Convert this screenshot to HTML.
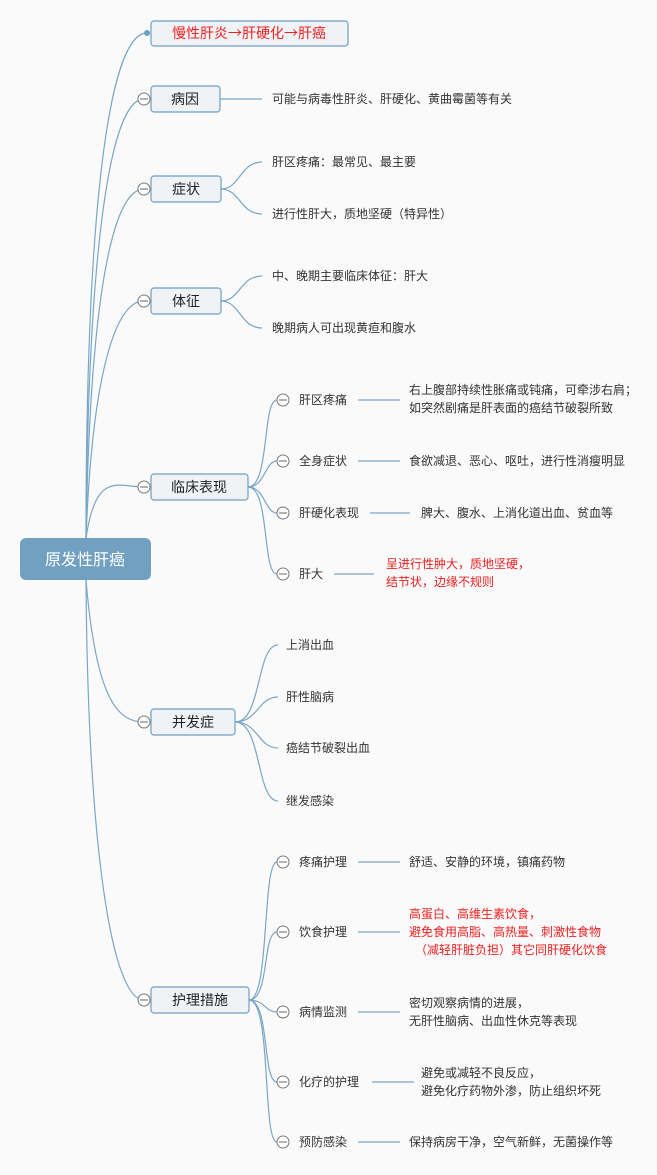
<!DOCTYPE html>
<html><head><meta charset="utf-8"><style>
html,body{margin:0;padding:0;background:#fafafa;}
svg{display:block;font-family:"Liberation Sans","Noto Sans CJK SC",sans-serif;}
.n{fill:#eff3f6;stroke:#6f9ec1;stroke-width:1.2;}
.l{fill:none;stroke:#7aa6c6;stroke-width:1.2;}
.c{fill:#fff;stroke:#777;stroke-width:1;}
.t{font-size:12px;fill:#333;}
.h{font-size:14px;fill:#222;}
.r{font-size:12px;fill:#f02020;}
.a{font-family:"Noto Sans CJK SC",sans-serif;}
</style></head><body>
<svg width="657" height="1175" viewBox="0 0 657 1175">
<g class="l">
<path d="M86,538 C86,200 110,33 147,33"/>
<path d="M86,538 C88,250 110,99 144,99"/>
<path d="M86,538 C90,300 112,189 144,189"/>
<path d="M86,538 C92,380 114,301 144,301"/>
<path d="M86,538 C96,470 118,487 144,487"/>
<path d="M86,580 C96,700 118,722 144,722"/>
<path d="M86,580 C88,850 112,1000 144,1000"/>
<path d="M220,99 L262,99"/>
<path d="M221,189 C240,189 240,162 262,162"/>
<path d="M221,189 C240,189 240,214 262,214"/>
<path d="M221,301 C240,301 240,276 262,276"/>
<path d="M221,301 C240,301 240,328 262,328"/>
<path d="M248,487 C270,487 262,400 277,400"/>
<path d="M248,487 C265,487 265,461 277,461"/>
<path d="M248,487 C265,487 265,513 277,513"/>
<path d="M248,487 C270,487 262,574 277,574"/>
<path d="M358,400 L400,400"/><path d="M358,461 L400,461"/><path d="M370,513 L410,513"/><path d="M334,574 L374,574"/>
<path d="M235,722 C262,722 256,645 278,645"/>
<path d="M235,722 C258,722 258,697 278,697"/>
<path d="M235,722 C258,722 258,748 278,748"/>
<path d="M235,722 C262,722 256,801 278,801"/>
<path d="M249,1000 C270,1000 262,862 277,862"/>
<path d="M249,1000 C270,1000 262,932 277,932"/>
<path d="M249,1000 C265,1000 265,1012 277,1012"/>
<path d="M249,1000 C270,1000 262,1082 277,1082"/>
<path d="M249,1000 C272,1000 262,1142 277,1142"/>
<path d="M358,862 L400,862"/><path d="M358,932 L400,932"/><path d="M358,1012 L400,1012"/><path d="M372,1082 L414,1082"/><path d="M358,1142 L400,1142"/>
</g>
<circle cx="147" cy="33" r="3" fill="#6f9ec1"/>
<rect x="20" y="538" width="131" height="42" rx="6" fill="#72a0c1"/>
<text x="85" y="565" text-anchor="middle" font-size="16" fill="#fff">原发性肝癌</text>
<rect class="n" x="151" y="21" width="197" height="25" rx="3"/>
<text x="249" y="38" text-anchor="middle" font-size="14" fill="#f02020">慢性肝炎<tspan class="a">→</tspan>肝硬化<tspan class="a">→</tspan>肝癌</text>
<rect class="n" x="151" y="86" width="69" height="26" rx="3"/><text class="h" x="185" y="104" text-anchor="middle">病因</text>
<rect class="n" x="151" y="176" width="70" height="26" rx="3"/><text class="h" x="186" y="194" text-anchor="middle">症状</text>
<rect class="n" x="151" y="288" width="70" height="26" rx="3"/><text class="h" x="186" y="306" text-anchor="middle">体征</text>
<rect class="n" x="151" y="474" width="97" height="26" rx="3"/><text class="h" x="199" y="492" text-anchor="middle">临床表现</text>
<rect class="n" x="151" y="709" width="84" height="26" rx="3"/><text class="h" x="193" y="727" text-anchor="middle">并发症</text>
<rect class="n" x="151" y="987" width="98" height="26" rx="3"/><text class="h" x="200" y="1005" text-anchor="middle">护理措施</text>
<g>
<circle class="c" cx="144" cy="99" r="6"/><circle class="c" cx="144" cy="189" r="6"/><circle class="c" cx="144" cy="301" r="6"/><circle class="c" cx="144" cy="487" r="6"/><circle class="c" cx="144" cy="722" r="6"/><circle class="c" cx="144" cy="1000" r="6"/>
<circle class="c" cx="283" cy="400" r="6"/><circle class="c" cx="283" cy="461" r="6"/><circle class="c" cx="283" cy="513" r="6"/><circle class="c" cx="283" cy="574" r="6"/>
<circle class="c" cx="283" cy="862" r="6"/><circle class="c" cx="283" cy="932" r="6"/><circle class="c" cx="283" cy="1012" r="6"/><circle class="c" cx="283" cy="1082" r="6"/><circle class="c" cx="283" cy="1142" r="6"/>
</g>
<g stroke="#666" stroke-width="1">
<path d="M140,99h8M140,189h8M140,301h8M140,487h8M140,722h8M140,1000h8M279,400h8M279,461h8M279,513h8M279,574h8M279,862h8M279,932h8M279,1012h8M279,1082h8M279,1142h8"/>
</g>
<text class="t" x="272" y="103">可能与病毒性肝炎、肝硬化、黄曲霉菌等有关</text>
<text class="t" x="272" y="166">肝区疼痛：最常见、最主要</text>
<text class="t" x="272" y="218">进行性肝大，质地坚硬（特异性）</text>
<text class="t" x="272" y="280">中、晚期主要临床体征：肝大</text>
<text class="t" x="272" y="332">晚期病人可出现黄疸和腹水</text>
<text class="t" x="299" y="404">肝区疼痛</text>
<text class="t" x="299" y="465">全身症状</text>
<text class="t" x="299" y="517">肝硬化表现</text>
<text class="t" x="299" y="578">肝大</text>
<text class="t" x="409" y="394">右上腹部持续性胀痛或钝痛，可牵涉右肩；</text>
<text class="t" x="409" y="412">如突然剧痛是肝表面的癌结节破裂所致</text>
<text class="t" x="409" y="465">食欲减退、恶心、呕吐，进行性消瘦明显</text>
<text class="t" x="421" y="517">脾大、腹水、上消化道出血、贫血等</text>
<text class="r" x="386" y="568">呈进行性肿大，质地坚硬，</text>
<text class="r" x="386" y="586">结节状，边缘不规则</text>
<text class="t" x="286" y="649">上消出血</text>
<text class="t" x="286" y="701">肝性脑病</text>
<text class="t" x="286" y="752">癌结节破裂出血</text>
<text class="t" x="286" y="805">继发感染</text>
<text class="t" x="299" y="866">疼痛护理</text>
<text class="t" x="299" y="936">饮食护理</text>
<text class="t" x="299" y="1016">病情监测</text>
<text class="t" x="299" y="1086">化疗的护理</text>
<text class="t" x="299" y="1146">预防感染</text>
<text class="t" x="409" y="866">舒适、安静的环境，镇痛药物</text>
<text class="r" x="409" y="918">高蛋白、高维生素饮食，</text>
<text class="r" x="409" y="936">避免食用高脂、高热量、刺激性食物</text>
<text class="r" x="415" y="954">（减轻肝脏负担）其它同肝硬化饮食</text>
<text class="t" x="409" y="1007">密切观察病情的进展，</text>
<text class="t" x="409" y="1025">无肝性脑病、出血性休克等表现</text>
<text class="t" x="421" y="1077">避免或减轻不良反应，</text>
<text class="t" x="421" y="1095">避免化疗药物外渗，防止组织坏死</text>
<text class="t" x="409" y="1146">保持病房干净，空气新鲜，无菌操作等</text>
</svg>
</body></html>
